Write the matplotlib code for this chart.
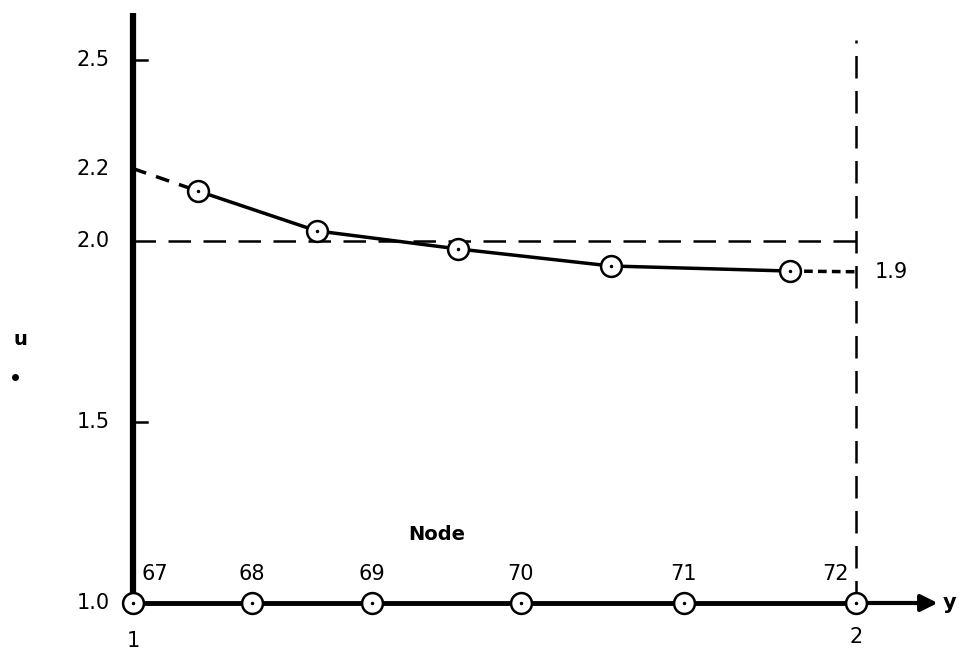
# importing library
import matplotlib.pyplot as plt

# node numbers along the line and their y positions
nodes = ["67", "68", "69", "70", "71", "72"]
node_y = [1.0, 1.164, 1.330, 1.536, 1.762, 2.0]

# computed u values (circles) and their y positions
u_y = [1.090, 1.254, 1.450, 1.661, 1.909]
u_val = [2.138, 2.028, 1.978, 1.931, 1.917]

# extrapolated ends of the curve
start_u = 2.2
end_y = 2.0
end_u = 1.915

# tick labels on the u axis
u_ticks = [1.0, 1.5, 2.0, 2.2, 2.5]
u_tick_labels = ["1.0", "1.5", "2.0", "2.2", "2.5"]

# reference level
u_ref = 2.0

fig = plt.figure(figsize=(9.59, 6.5), dpi=100)
ax = fig.add_axes([133 / 959, 47 / 650, 723 / 959, 543 / 650])
ax.set_xlim(1, 2)
ax.set_ylim(1, 2.5)
ax.axis("off")

fs = 15

# thick u axis and node axis with arrow
ax.plot([1, 1], [1, 2.63], color="black", lw=4.5, clip_on=False, solid_capstyle="butt")
ax.plot([1, 2], [1, 1], color="black", lw=3.5, clip_on=False)
ax.annotate("", xy=(2.113, 1.0), xytext=(1.99, 1.0), annotation_clip=False,
            arrowprops=dict(arrowstyle="-|>", lw=3.0, color="black", mutation_scale=25,
                            shrinkA=0, shrinkB=0))
ax.text(2.12, 1.0, "y", fontsize=fs, fontweight="bold", ha="left", va="center", clip_on=False)

# small ticks
for t in [1.5, 2.5]:
    ax.plot([1, 1.02], [t, t], color="black", lw=1.8, clip_on=False)

# tick labels
for t, lab in zip(u_ticks, u_tick_labels):
    ax.text(0.968, t, lab, fontsize=fs, ha="right", va="center")

# dashed reference lines
ax.plot([1, 2], [u_ref, u_ref], color="black", lw=1.8, dashes=(9, 5), clip_on=False)
ax.plot([2, 2], [1, 2.555], color="black", lw=1.8, dashes=(9, 5), clip_on=False)

# curve through the circles
ax.plot(u_y, u_val, color="black", lw=2.5, clip_on=False)
ax.plot([1.0, u_y[0]], [start_u, u_val[0]], color="black", lw=2.5, dashes=(4, 3), clip_on=False)
ax.plot([u_y[-1], end_y], [u_val[-1], end_u], color="black", lw=2.5, dashes=(2.5, 1.5), clip_on=False)
ax.plot(u_y, u_val, "o", ms=15, mfc="white", mec="black", mew=1.8, clip_on=False)
ax.plot(u_y, u_val, ".", ms=3, color="black", clip_on=False)
ax.text(2.026, end_u, "1.9", fontsize=fs, ha="left", va="center")

# nodes on the axis
ax.plot(node_y, [1.0] * len(node_y), "o", ms=15, mfc="white", mec="black", mew=1.8,
        clip_on=False, zorder=5)
ax.plot(node_y, [1.0] * len(node_y), ".", ms=3, color="black", clip_on=False, zorder=6)
for i in range(len(nodes)):
    if i == 0:
        ha, dx = "left", 6
    elif i == len(nodes) - 1:
        ha, dx = "right", -5
    else:
        ha, dx = "center", 0
    ax.annotate(nodes[i], (node_y[i], 1.0), xytext=(dx, 21), textcoords="offset points",
                fontsize=fs, ha=ha, va="center")

ax.text(1.42, 1.188, "Node", fontsize=14, fontweight="bold", ha="center", va="center")

# end labels under the axis
ax.text(1.0, 0.895, "1", fontsize=fs, ha="center", va="center")
ax.text(2.0, 0.905, "2", fontsize=fs, ha="center", va="center")

# u label
ax.text(0.844, 1.727, "u", fontsize=14, fontweight="bold", ha="center", va="center", clip_on=False)
ax.plot([0.837], [1.624], "o", ms=4, color="black", clip_on=False)

fig.savefig("out.png", dpi=100)
